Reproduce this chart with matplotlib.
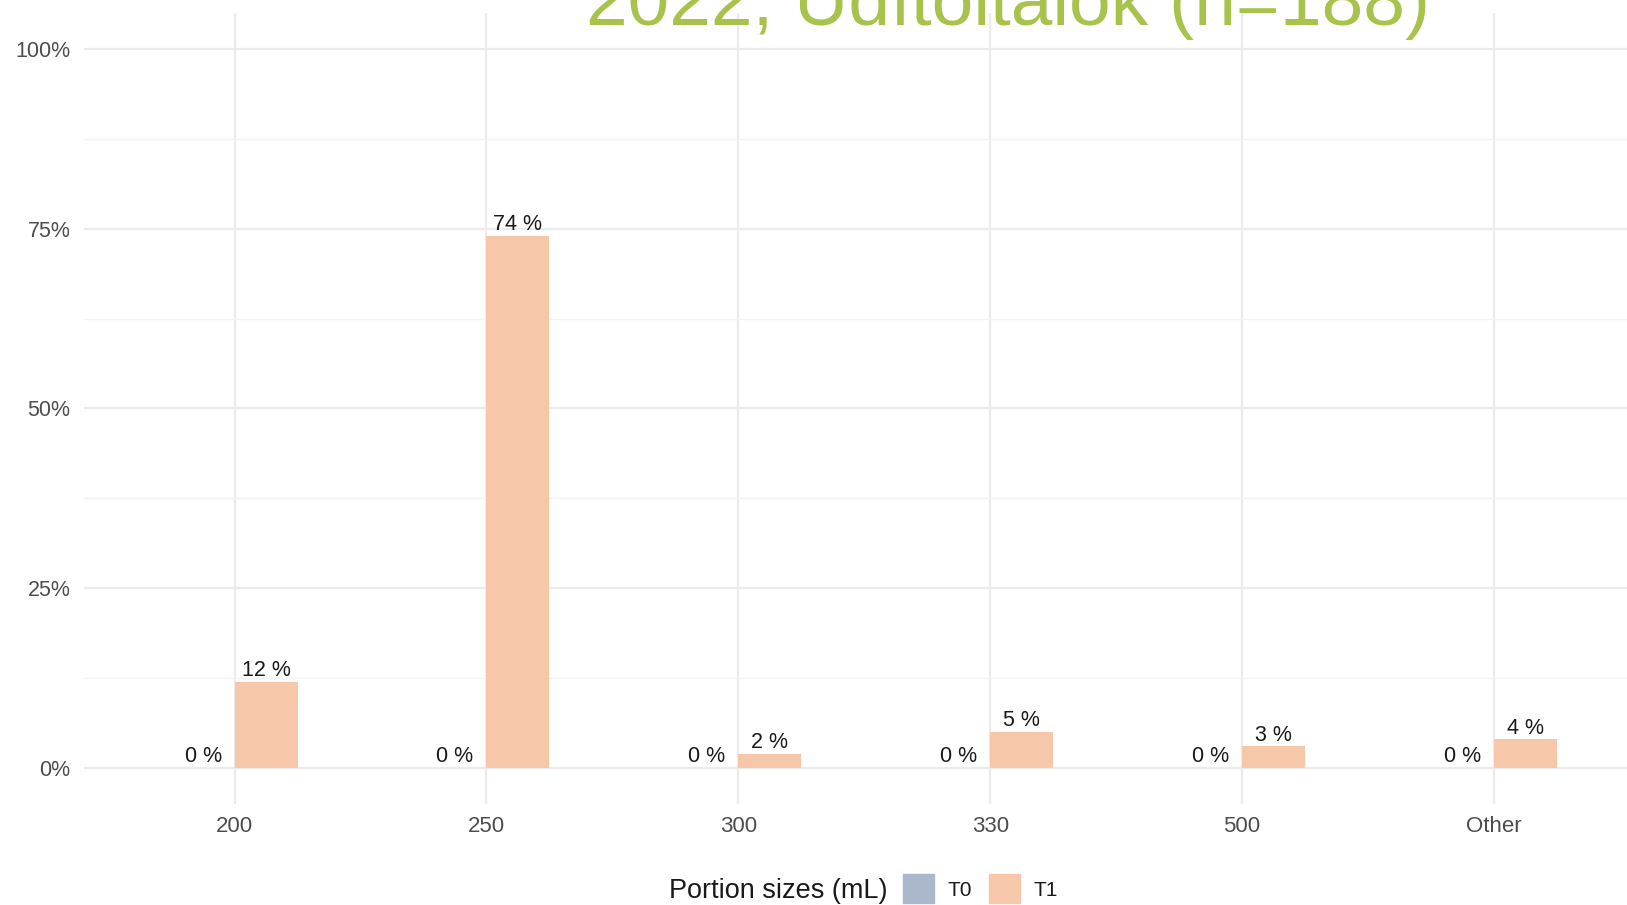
import numpy as np
import matplotlib.pyplot as plt
from matplotlib.patches import Rectangle

plt.rcParams['font.family'] = ['Liberation Sans', 'DejaVu Sans']

categories = ['200', '250', '300', '330', '500', 'Other']
t0_values = [0, 0, 0, 0, 0, 0]
t1_values = [12, 74, 2, 5, 3, 4]
series_names = ['T0', 'T1']
series_colors = ['#A9B8CB', '#F6C7A9']
title = '2022, Üdítőitalok (n=188)'
legend_title = 'Portion sizes (mL)'

W, H = 1627, 905
fig = plt.figure(figsize=(W / 100, H / 100), dpi=100)
# axes runs past the right edge, like the cropped original
ax = fig.add_axes([83.5 / W, 1 - 804 / H, (1645 - 83.5) / W, (804 - 12.9) / H])

x = np.arange(len(categories))
bw = 0.25
for i, (vals, col) in enumerate(zip([t0_values, t1_values], series_colors)):
    xs = x + (i - 0.5) * bw
    ax.bar(xs, vals, width=bw, color=col, zorder=3)
    for xx, v in zip(xs, vals):
        ax.text(xx, v + 0.1, f'{v} %', ha='center', va='bottom',
                fontsize=15.5, color='#1a1a1a', zorder=4)

ax.set_xlim(-0.6, len(categories) - 0.4)
ax.set_ylim(-5, 105)
ax.set_yticks([0, 25, 50, 75, 100])
ax.set_yticklabels(['0%', '25%', '50%', '75%', '100%'])
ax.set_yticks([12.5, 37.5, 62.5, 87.5], minor=True)
ax.set_xticks(x)
ax.set_xticklabels(categories)
ax.tick_params(axis='both', which='both', length=0, labelcolor='#4D4D4D', pad=9.5)
ax.tick_params(axis='y', labelsize=15.5)
ax.tick_params(axis='x', labelsize=16, pad=8.5)
ax.grid(which='major', color='#EBEBEB', lw=1.6, zorder=0)
ax.grid(which='minor', axis='y', color='#F3F3F3', lw=1.0, zorder=0)
for s in ax.spines.values():
    s.set_visible(False)

fig.text(586 / W, 1 - 25 / H, title, ha='left', va='baseline',
         fontsize=54, color='#A8C34C')

# legend at the bottom
fig.text(669 / W, 1 - 891 / H, legend_title, ha='left', va='center',
         fontsize=19.5, color='#1a1a1a')
key_x = [903, 989]
for kx, name, col in zip(key_x, series_names, series_colors):
    fig.add_artist(Rectangle((kx / W, 1 - 903 / H), 31 / W, 29 / H,
                             transform=fig.transFigure, color=col))
    fig.text((kx + 45) / W, 1 - 890 / H, name, ha='left', va='center',
             fontsize=15, color='#1a1a1a')

fig.savefig('out.png', dpi=100)
